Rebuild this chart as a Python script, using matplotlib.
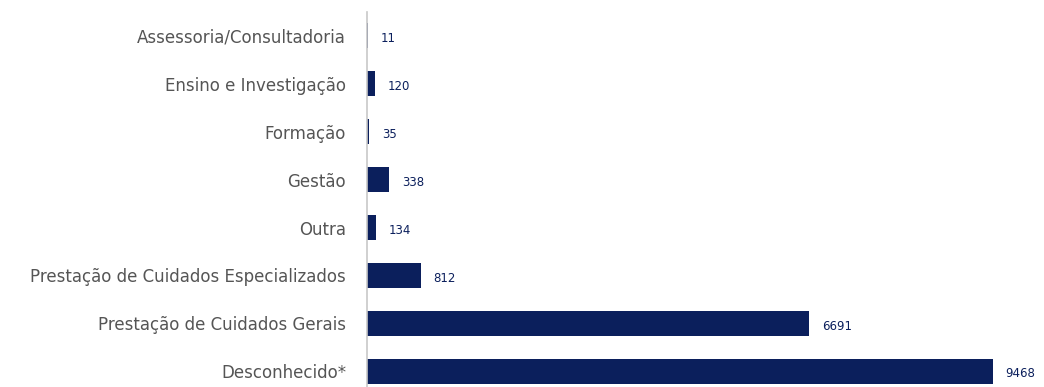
import matplotlib
matplotlib.use("Agg")
import matplotlib.pyplot as plt

categories = [
    "Assessoria/Consultadoria",
    "Ensino e Investigação",
    "Formação",
    "Gestão",
    "Outra",
    "Prestação de Cuidados Especializados",
    "Prestação de Cuidados Gerais",
    "Desconhecido*",
]
values = [11, 120, 35, 338, 134, 812, 6691, 9468]

navy = "#0b1f5c"

fig = plt.figure(figsize=(10.44, 3.87), dpi=100)
ax = fig.add_axes([0.3515, 0.0, 0.6485, 0.969])

ypos = list(range(len(categories)))
ax.barh(ypos, values, height=0.52, color=navy)
ax.set_ylim(7.33, -0.5)
ax.set_xlim(0, 10240)

ax.set_yticks(ypos)
ax.set_yticklabels(categories, fontsize=12, color="#555555")
ax.tick_params(axis="y", length=0, pad=15)
ax.set_xticks([])

for s in ["top", "right", "bottom"]:
    ax.spines[s].set_visible(False)
ax.spines["left"].set_color("#c8c8c8")
ax.spines["left"].set_linewidth(1.2)

for y, v in zip(ypos, values):
    ax.annotate(str(v), (v, y), xytext=(9, -2), textcoords="offset points",
                va="center", ha="left", fontsize=8.5, color=navy,
                family=["Liberation Sans Narrow", "DejaVu Sans"])

fig.savefig("out.png", dpi=100)
